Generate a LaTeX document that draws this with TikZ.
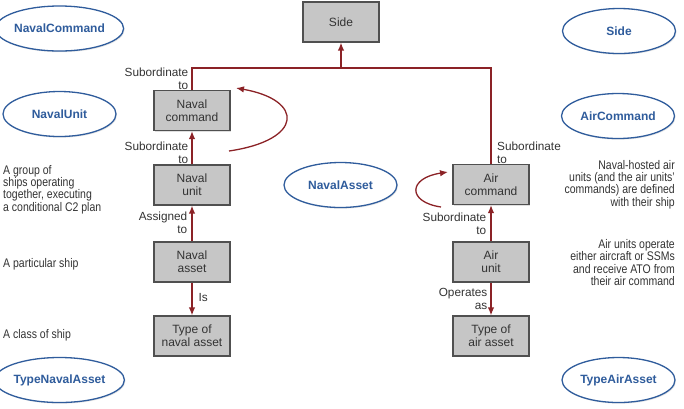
\documentclass[tikz,border=0pt]{standalone}
\usepackage{fontspec}
\setmainfont{Liberation Sans}
\newfontfamily\narrowfont[FakeStretch=0.84]{Liberation Sans}
\usetikzlibrary{shapes.geometric,arrows.meta,shadows}
\definecolor{conn}{HTML}{8B2226}
\definecolor{ellblue}{HTML}{2F5C9C}
\definecolor{boxfill}{HTML}{C6C6C6}
\definecolor{boxline}{HTML}{505050}
\definecolor{txt}{HTML}{333333}
\tikzset{
  entity/.style={draw=boxline, line width=1.2bp, fill=boxfill, minimum width=76bp, minimum height=40bp, inner sep=0pt, align=center, text=txt, font=\fontsize{12bp}{13bp}\selectfont, drop shadow={opacity=0.25, shadow xshift=1bp, shadow yshift=-1bp}},
  concept/.style={ellipse, draw=ellblue, line width=1.3bp, fill=white, minimum width=113bp, minimum height=45bp, inner sep=0pt, text=ellblue, font=\fontsize{12bp}{13bp}\selectfont\bfseries, drop shadow={opacity=0.2, shadow xshift=1bp, shadow yshift=-1.2bp}},
  conline/.style={draw=conn, line width=1.3bp},
  conarrow/.style={conline, -{Latex[length=8bp,width=6.5bp]}},
  lbl/.style={text=txt, font=\fontsize{11.8bp}{13bp}\selectfont, inner sep=0pt},
  note/.style={text=txt, font=\narrowfont\fontsize{12.5bp}{12.3bp}\selectfont, inner sep=0pt}
}
\begin{document}
\begin{tikzpicture}[x=1bp,y=-1bp]
\useasboundingbox (0,0) rectangle (684,408);
% entity boxes
\node[entity] (side) at (341,22) {Side};
\node[entity] (nc) at (192,110.5) {Naval\\command};
\node[entity] (nu) at (192,185) {Naval\\unit};
\node[entity] (na) at (192,262) {Naval\\asset};
\node[entity] (tna) at (192,336) {Type of\\naval asset};
\node[entity] (ac) at (491,184.5) {Air\\command};
\node[entity] (au) at (491,262) {Air\\unit};
\node[entity] (taa) at (491,336) {Type of\\air asset};
% concept ellipses
\node[concept] (eNC) at (59.5,28.5) {NavalCommand};
\node[concept] (eNU) at (59.5,114) {NavalUnit};
\node[concept] (eNA) at (340.5,185) {NavalAsset};
\node[concept] (eTNA) at (59.5,380) {TypeNavalAsset};
\node[concept] (eS) at (619,31) {Side};
\node[concept] (eAC) at (618,116) {AirCommand};
\node[concept] (eTAA) at (618.5,380) {TypeAirAsset};
% connectors
\coordinate (junc) at (341,68);
\draw[conline] (nc.north) |- (junc) -| (ac.north);
\draw[conarrow] (junc) -- (side.south);
\draw[conarrow] (nu.north) -- (nc.south);
\draw[conarrow] (na.north) -- (nu.south);
\draw[conarrow] (na.south) -- (tna.north);
\draw[conarrow] (au.north) -- (ac.south);
\draw[conarrow] (au.south) -- (taa.north);
% self loops
\coordinate (ncs) at (229,151);
\coordinate (nce) at (236,88);
\draw[conarrow] (ncs) .. controls (304,140) and (304,100) .. (nce);
\coordinate (acs) at (441,207);
\coordinate (ace) at (448,172);
\draw[conarrow] (acs) .. controls (407,202) and (408,178) .. (ace);
% connector labels
\node[lbl, align=right, anchor=east] (l1) at (188.5,78.5) {Subordinate\\to};
\node[lbl, align=right, anchor=east] (l2) at (188.5,152.5) {Subordinate\\to};
\node[lbl, align=right, anchor=east] (l3) at (187.5,222.5) {Assigned\\to};
\node[lbl, anchor=west] (l4) at (198.5,297) {Is};
\node[lbl, align=left, anchor=west] (l5) at (497,152.5) {Subordinate\\to};
\node[lbl, align=right, anchor=east] (l6) at (486.5,223.5) {Subordinate\\to};
\node[lbl, align=right, anchor=east] (l7) at (487.5,299) {Operates\\as};
% notes
\node[note, align=left, anchor=west] (n1) at (3,189.5) {A group of\\ships operating\\together, executing\\a conditional C2 plan};
\node[note, anchor=west] (n2) at (3,264) {A particular ship};
\node[note, anchor=west] (n3) at (3,335.5) {A class of ship};
\node[note, align=right, anchor=east] (n4) at (675,184.5) {Naval-hosted air\\units (and the air units’\\commands) are defined\\with their ship};
\node[note, align=right, anchor=east] (n5) at (675,262.5) {Air units operate\\either aircraft or SSMs\\and receive ATO from\\their air command};
\end{tikzpicture}
\end{document}
